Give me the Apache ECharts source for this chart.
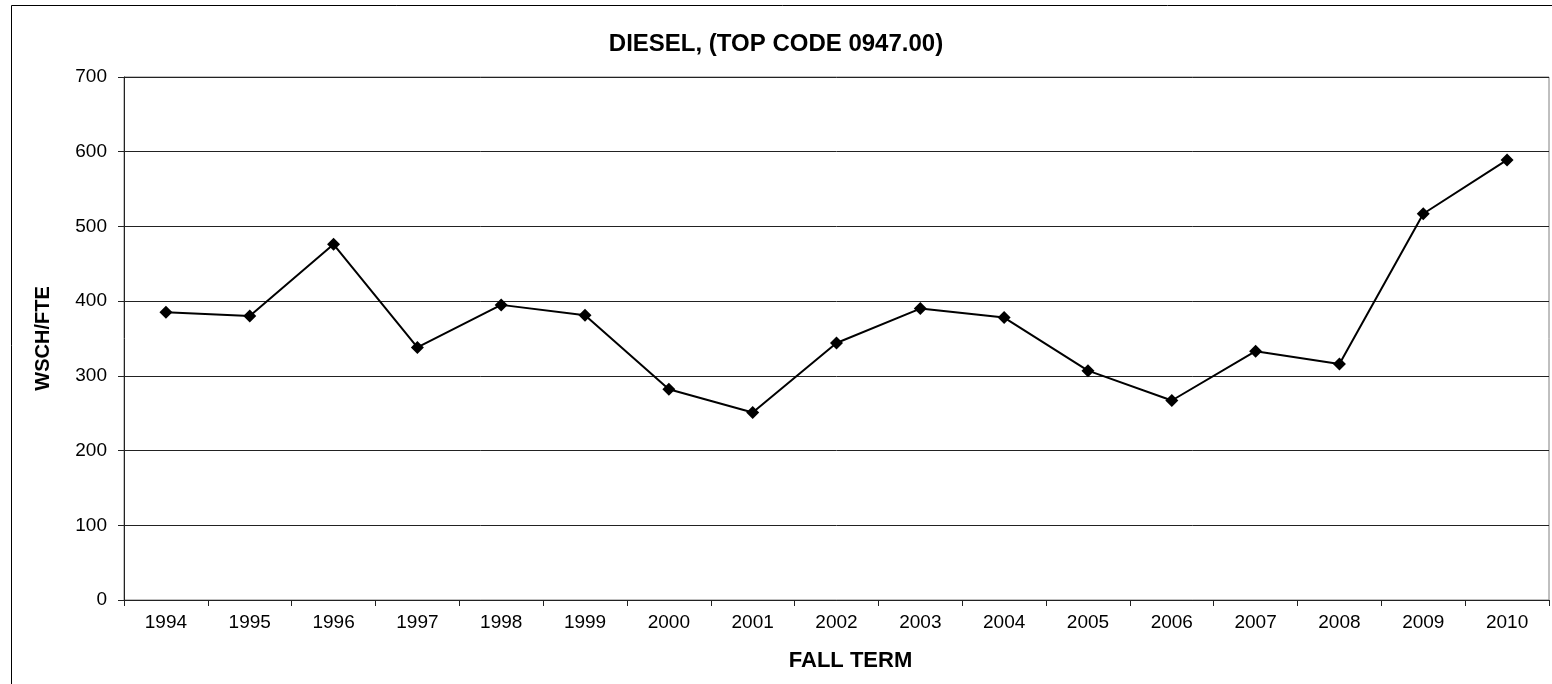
<!DOCTYPE html>
<html>
<head>
<meta charset="utf-8">
<script src="https://cdn.jsdelivr.net/npm/echarts@6/dist/echarts.min.js"></script>
<style>
  html, body { margin: 0; padding: 0; background: #fff; }
  #chart { width: 1552px; height: 684px; }
</style>
</head>
<body>
<div id="chart"></div>
<script>
    /* Chart data */
    var years = ['1994', '1995', '1996', '1997', '1998', '1999', '2000', '2001', '2002',
                 '2003', '2004', '2005', '2006', '2007', '2008', '2009', '2010'];
    var wschFte = [385, 380, 476, 338, 395, 381, 282, 251, 344, 390, 378, 307, 267, 333, 316, 517, 589];

    var chart = echarts.init(document.getElementById('chart'));
    var fontFam = '"Liberation Sans", Arial, sans-serif';

    chart.setOption({
        animation: false,
        backgroundColor: '#fff',
        title: {
            text: 'DIESEL, (TOP CODE 0947.00)',
            left: 'center',
            top: 27,
            textStyle: { fontFamily: fontFam, fontSize: 24, fontWeight: 'bold', color: '#000' }
        },
        graphic: [{
            type: 'rect',
            shape: { x: 11.5, y: 5.5, width: 1600, height: 800 },
            style: { fill: 'none', stroke: '#000', lineWidth: 1 },
            silent: true
        }],
        grid: {
            left: 124, right: 3, top: 77, bottom: 84,
            show: true, borderColor: '#808080', borderWidth: 1
        },
        xAxis: {
            type: 'category',
            data: years,
            boundaryGap: true,
            name: 'FALL TERM',
            nameLocation: 'middle',
            nameGap: 50,
            nameTextStyle: { fontFamily: fontFam, fontSize: 22, fontWeight: 'bold', color: '#000', padding: [0, 0, 0, 28] },
            axisLine: { lineStyle: { color: '#222', width: 1 } },
            axisTick: { show: true, length: 6, lineStyle: { color: '#222' } },
            axisLabel: { fontFamily: fontFam, fontSize: 19, color: '#000', margin: 13 }
        },
        yAxis: {
            type: 'value',
            min: 0, max: 700, interval: 100,
            name: 'WSCH/FTE',
            nameLocation: 'middle',
            nameGap: 71,
            nameTextStyle: { fontFamily: fontFam, fontSize: 20, fontWeight: 'bold', color: '#000' },
            axisLine: { show: true, lineStyle: { color: '#222', width: 1 } },
            axisTick: { show: true, length: 6, lineStyle: { color: '#222' } },
            axisLabel: { fontFamily: fontFam, fontSize: 19, color: '#000', margin: 17 },
            splitLine: { show: true, lineStyle: { color: '#222', width: 1 } }
        },
        series: [{
            name: 'WSCH/FTE',
            type: 'line',
            data: wschFte,
            symbol: 'diamond',
            symbolSize: 13,
            itemStyle: { color: '#000' },
            lineStyle: { color: '#000', width: 2 }
        }]
    });
</script>
</body>
</html>
